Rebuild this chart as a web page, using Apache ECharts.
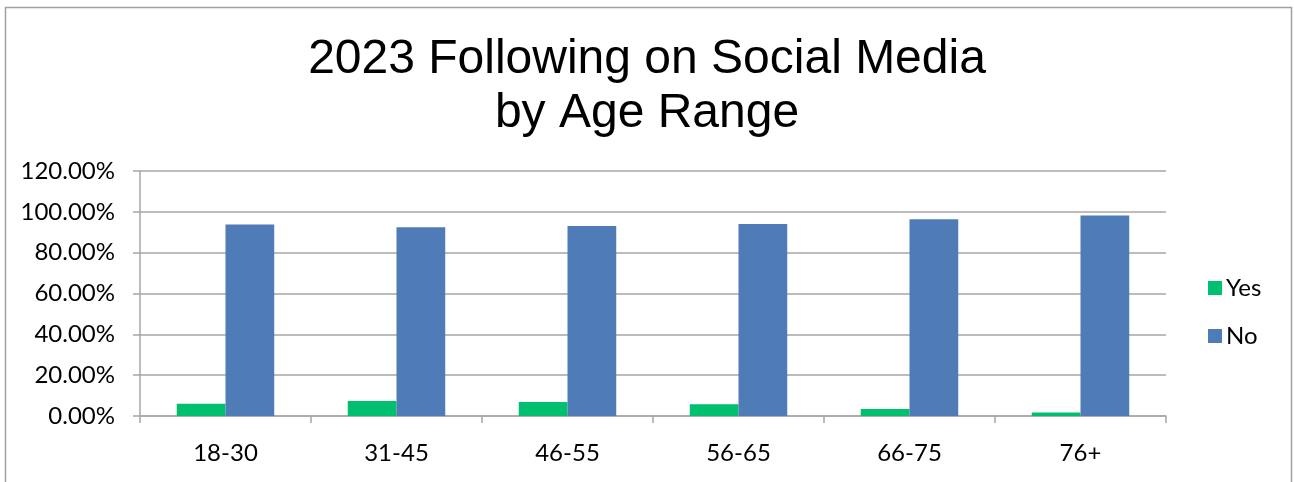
<!DOCTYPE html>
<html>
<head>
<meta charset="utf-8">
<script src="https://cdn.jsdelivr.net/npm/echarts@6/dist/echarts.min.js"></script>
<style>
html,body{margin:0;padding:0;background:#fff;}
#c{width:1294px;height:482px;}
</style>
</head>
<body>
<div id="c"></div>
<script>
var categories = ['18-30', '31-45', '46-55', '56-65', '66-75', '76+'];
var yesValues = [6.0, 7.3, 6.8, 5.8, 3.4, 1.7];
var noValues = [93.8, 92.4, 93.1, 94.1, 96.4, 98.2];
var seriesNames = ['Yes', 'No'];
var titleText = '2023 Following on Social Media\nby Age Range';

var chart = echarts.init(document.getElementById('c'), null, {renderer: 'canvas'});
var gray = '#a6a6a6';
var labelFont = 'Lato';
chart.setOption({
  animation: false,
  backgroundColor: '#fff',
  graphic: [{
    type: 'rect',
    shape: {x: 5.5, y: 7.5, width: 1286, height: 520},
    style: {fill: 'none', stroke: '#a0a0a0', lineWidth: 1.5},
    silent: true
  }],
  title: {
    text: titleText,
    left: 'center',
    top: 28,
    textStyle: {fontFamily: 'Liberation Sans', fontSize: 48, fontWeight: 'normal', color: '#000', lineHeight: 54}
  },
  legend: {
    orient: 'vertical',
    left: 1208,
    top: 276,
    padding: 0,
    icon: 'rect',
    itemWidth: 14,
    itemHeight: 14,
    itemGap: 24,
    textStyle: {fontFamily: labelFont, fontSize: 24, color: '#000', padding: [0,0,0,-1]},
    data: seriesNames
  },
  grid: {left: 140, right: 128, top: 171, bottom: 66},
  xAxis: {
    type: 'category',
    data: categories,
    boundaryGap: true,
    axisLine: {lineStyle: {color: gray, width: 1.5}},
    axisTick: {show: true, length: 7, lineStyle: {color: gray, width: 1.5}},
    axisLabel: {fontFamily: labelFont, fontSize: 24, color: '#000', margin: 25}
  },
  yAxis: {
    type: 'value',
    min: 0,
    max: 120,
    interval: 20,
    axisLine: {show: true, lineStyle: {color: gray, width: 1.5}},
    axisTick: {show: true, length: 7, lineStyle: {color: gray, width: 1.5}},
    splitLine: {show: true, lineStyle: {color: gray, width: 1.5}},
    axisLabel: {fontFamily: labelFont, fontSize: 24, color: '#000', margin: 25,
      formatter: function (v) { return v.toFixed(2) + '%'; }}
  },
  series: [{
    name: seriesNames[0],
    type: 'bar',
    data: yesValues,
    barGap: '0%',
    barCategoryGap: '43%',
    itemStyle: {color: '#00BF6F'}
  }, {
    name: seriesNames[1],
    type: 'bar',
    data: noValues,
    barGap: '0%',
    barCategoryGap: '43%',
    itemStyle: {color: '#4F7CB6'}
  }]
});
</script>
</body>
</html>
